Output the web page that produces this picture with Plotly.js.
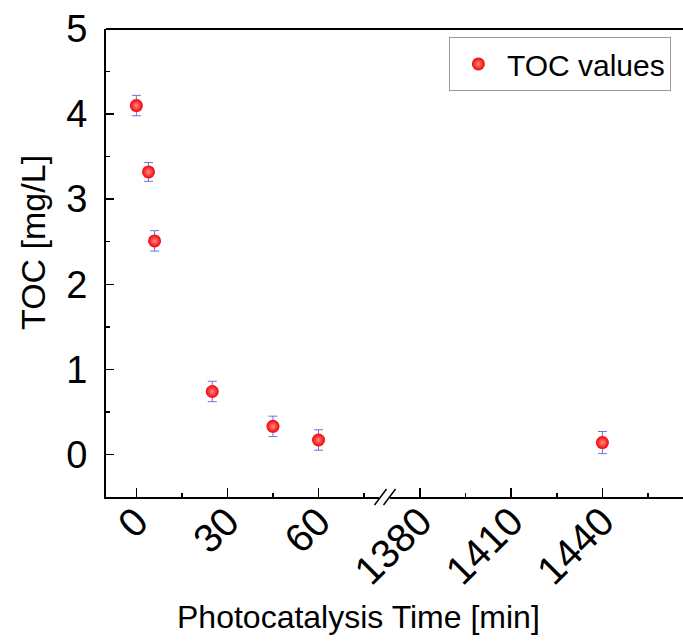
<!DOCTYPE html>
<html>
<head>
<meta charset="utf-8">
<script src="https://cdn.plot.ly/plotly-3.0.1.min.js"></script>
<style>html,body{margin:0;padding:0;background:#fff;}#chart{width:683px;height:644px;}</style>
</head>
<body>
<div id="chart"></div>
<script>
// ---- data ----
var seriesName = 'TOC values';
var timeEarly = [0, 4, 6, 25, 45, 60];          // min, left segment
var tocEarly  = [4.10, 3.32, 2.51, 0.74, 0.33, 0.17];
var errEarly  = [0.12, 0.11, 0.12, 0.12, 0.12, 0.12];
var timeLate  = [1440];                          // min, right segment
var tocLate   = [0.14];
var errLate   = [0.13];
var xTicksLeft  = [0, 30, 60];
var xTicksRight = [1380, 1410, 1440];
var yTicks = [0, 1, 2, 3, 4, 5];
var xTitle = 'Photocatalysis Time [min]';
var yTitle = 'TOC [mg/L]';

var FONT = 'Liberation Sans, Arial, sans-serif';
var marker = {
  size: 13, color: '#f40000',
  gradient: {type: 'radial', color: '#ff8a8a'},
  line: {width: 0}
};
var errStyle = function (arr) {
  return {type: 'data', array: arr, visible: true, color: '#6f6fe8', thickness: 1, width: 4.5};
};

var traces = [
  {x: timeEarly, y: tocEarly, type: 'scatter', mode: 'markers', name: seriesName,
   legendgroup: 'toc', marker: marker, error_y: errStyle(errEarly), xaxis: 'x', yaxis: 'y'},
  {x: timeLate, y: tocLate, type: 'scatter', mode: 'markers', name: seriesName,
   legendgroup: 'toc', showlegend: false, marker: marker, error_y: errStyle(errLate), xaxis: 'x2', yaxis: 'y'}
];

var common = {
  showline: true, linecolor: '#000', linewidth: 2, mirror: false,
  ticks: 'inside', ticklen: 9, tickwidth: 1.5, tickcolor: '#000',
  showgrid: false, zeroline: false,
  tickfont: {family: FONT, size: 40, color: '#000'},
  tickangle: -45, ticklabelstandoff: -17,
  minor: {dtick: 15, ticks: 'inside', ticklen: 4, tickwidth: 1.5, tickcolor: '#000', showgrid: false}
};

var layout = {
  width: 683, height: 644,
  margin: {l: 106, r: 0, t: 29, b: 147},
  paper_bgcolor: '#fff', plot_bgcolor: '#fff',
  font: {family: FONT, color: '#000'},
  showlegend: true,
  legend: {
    x: 0.979, xanchor: 'right', y: 0.983, yanchor: 'top',
    bgcolor: '#fff', bordercolor: '#999', borderwidth: 1, itemwidth: 47,
    font: {family: FONT, size: 30, color: '#000'}
  },
  xaxis: Object.assign({}, common, {
    domain: [0, 0.4735], range: [-10, 80], tickmode: 'array', tickvals: xTicksLeft, anchor: 'y'
  }),
  xaxis2: Object.assign({}, common, {
    domain: [0.4915, 1], range: [1370, 1466.5], tickmode: 'array', tickvals: xTicksRight, anchor: 'y'
  }),
  yaxis: {
    range: [-0.5, 5], tickmode: 'array', tickvals: yTicks,
    showline: true, linecolor: '#000', linewidth: 2, mirror: false,
    ticks: 'inside', ticklen: 8, tickwidth: 1.5, tickcolor: '#000',
    ticklabelstandoff: 9,
    showgrid: false, zeroline: false,
    tickfont: {family: FONT, size: 38, color: '#000'},
    minor: {dtick: 0.5, ticks: 'inside', ticklen: 4, tickwidth: 1.5, tickcolor: '#000', showgrid: false}
  },
  shapes: [
    // top frame line
    {type: 'line', xref: 'paper', yref: 'paper', x0: 0, x1: 1, y0: 1, y1: 1,
     line: {color: '#000', width: 2}},
    // axis-break marks
    {type: 'line', xref: 'paper', yref: 'paper', xsizemode: 'pixel', ysizemode: 'pixel',
     xanchor: 0.4827, yanchor: 0, x0: -10, x1: 2, y0: -8, y1: 8, line: {color: '#000', width: 1.5}},
    {type: 'line', xref: 'paper', yref: 'paper', xsizemode: 'pixel', ysizemode: 'pixel',
     xanchor: 0.4827, yanchor: 0, x0: -1, x1: 11, y0: -8, y1: 8, line: {color: '#000', width: 1.5}}
  ],
  annotations: [
    {text: xTitle, xref: 'paper', yref: 'paper', x: (358 - 106) / 577, y: (497 - 617) / 468,
     xanchor: 'center', yanchor: 'middle', showarrow: false,
     font: {family: FONT, size: 32, color: '#000'}},
    {text: yTitle, xref: 'paper', yref: 'paper', x: (33 - 106) / 577, y: (497 - 243) / 468,
     xanchor: 'center', yanchor: 'middle', textangle: -90, showarrow: false,
     font: {family: FONT, size: 34, color: '#000'}}
  ]
};

Plotly.newPlot('chart', traces, layout, {displayModeBar: false, staticPlot: true});
</script>
</body>
</html>
